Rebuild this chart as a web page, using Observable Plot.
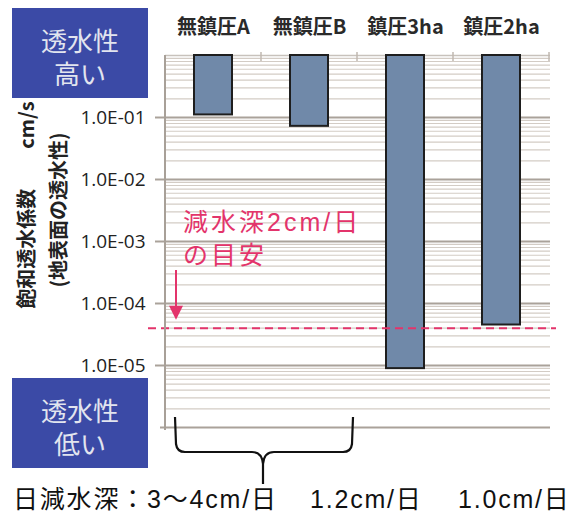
<!DOCTYPE html>
<html><head><meta charset="utf-8">
<script src="https://cdn.jsdelivr.net/npm/d3@7"></script>
<script src="https://cdn.jsdelivr.net/npm/@observablehq/plot@0.6"></script>
<style>
body{margin:0;background:#fff;}
#chart{position:relative;width:579px;height:512px;}
</style></head><body><div id="chart"></div>
<script>
// ---- data ----
const categories = ["無鎮圧A", "無鎮圧B", "鎮圧3ha", "鎮圧2ha"];
const permeability = [0.11, 0.072, 8.9e-6, 4.5e-5];   // cm/s
const barTop = 1;
const tickValues = [1e-1, 1e-2, 1e-3, 1e-4, 1e-5];
const tickLabels = ["1.0E-01", "1.0E-02", "1.0E-03", "1.0E-04", "1.0E-05"];
const guideValue = 4.0e-5;
const guideLabel = ["減水深2cm/日", "の目安"];
const yTitle = ["飽和透水係数　　cm/s", "(地表面の透水性)"];
const highLabel = ["透水性", "高い"];
const lowLabel = ["透水性", "低い"];
const dailyDepth = ["日減水深：3〜4cm/日", "1.2cm/日", "1.0cm/日"];

const data = categories.map((c, i) => ({cat: c, v: permeability[i]}));
const yDomain = [1e-6, 1];
const gridAll = d3.scaleLog().domain(yDomain).ticks();
const isMajor = v => Math.abs(Math.log10(v) - Math.round(Math.log10(v))) < 1e-9;
const majors = gridAll.filter(isMajor);
const minors = gridAll.filter(v => !isMajor(v));
const labelMap = new Map(tickValues.map((v, i) => [v, tickLabels[i]]));

const pink = "#e3346b";
const latinJP = "'Liberation Sans', 'Noto Sans CJK JP', sans-serif";
const plot = Plot.plot({
  width: 579, height: 512,
  marginTop: 55, marginBottom: 85, marginLeft: 165, marginRight: 29,
  style: {fontFamily: "'Noto Sans CJK JP', sans-serif", background: "transparent", overflow: "visible"},
  x: {domain: categories, paddingInner: 0.6, paddingOuter: 0.3, axis: null, label: null},
  y: {type: "log", domain: yDomain, axis: null, label: null},
  marks: [
    Plot.ruleY(minors, {stroke: "#d3ccc5", strokeWidth: 1.2}),
    Plot.ruleY(majors.filter(v => v < 1 && v > 1e-6), {stroke: "#aaa29a", strokeWidth: 2}),
    Plot.ruleY([1], {stroke: "#c8c2bc", strokeWidth: 1.5}),
    Plot.ruleY([1e-6], {stroke: "#aaa29a", strokeWidth: 2, insetLeft: -5}),
    Plot.barY(data, {x: "cat", y1: barTop, y2: "v", fill: "#7089a9", stroke: "#1e1e1e", strokeWidth: 2}),
    Plot.ruleY([guideValue], {stroke: pink, strokeWidth: 2, strokeDasharray: "8,5", insetLeft: -17, insetRight: -6}),
    Plot.axisY(tickValues, {tickSize: 10, tickPadding: 10, stroke: "#aaa29a", strokeWidth: 2, label: null,
      tickFormat: d => labelMap.get(d), fontSize: 19, fill: "#222", fontFamily: "'Open Sans', sans-serif"}),
    Plot.axisX({anchor: "top", tickSize: 0, tickPadding: 22, fontSize: 20, fontWeight: "bold", fill: "#2a2a2a", label: null})
  ]
});
document.getElementById("chart").appendChild(plot);

// ---- annotations ----
const svg = d3.select(plot);
const xs = plot.scale("x");
const g = svg.append("g").attr("text-anchor", "start");

// left axis line
g.append("line").attr("x1", 165).attr("x2", 165).attr("y1", 55).attr("y2", 430)
  .attr("stroke", "#a8a098").attr("stroke-width", 2);
// small ticks at band boundaries on top
categories.forEach(c => {
  const bx = xs.apply(c) + xs.bandwidth + (xs.step - xs.bandwidth) / 2;
  g.append("line").attr("x1", bx).attr("x2", bx).attr("y1", 52).attr("y2", 61)
    .attr("stroke", "#c0b8b0").attr("stroke-width", 1.5);
});

// blue boxes
function box(y, lines) {
  g.append("rect").attr("x", 12).attr("y", y).attr("width", 136).attr("height", 90).attr("fill", "#3b4aa6");
  lines.forEach((t, i) => g.append("text").attr("x", 80).attr("y", y + 31 + i * 33)
    .attr("text-anchor", "middle").attr("dominant-baseline", "central")
    .attr("font-size", 26).attr("fill", "#e2e5ef").text(t));
}
box(8, highLabel);
box(378, lowLabel);

// y title
[[25, 205], [57, 210]].forEach(([x, y], i) => {
  g.append("text").attr("transform", `translate(${x},${y}) rotate(-90)`)
    .attr("text-anchor", "middle").attr("dominant-baseline", "central")
    .attr("font-size", 20).attr("font-weight", "bold").attr("fill", "#222").text(yTitle[i]);
});

// guide label
guideLabel.forEach((t, i) => g.append("text").attr("x", 183).attr("y", 222 + i * 33)
  .attr("text-anchor", "start").attr("dominant-baseline", "central")
  .attr("font-family", latinJP).attr("letter-spacing", 3)
  .attr("font-size", 25).attr("fill", pink).text(t));
// arrow
const ya = plot.scale("y").apply(guideValue);
g.append("line").attr("x1", 176).attr("x2", 176).attr("y1", 270).attr("y2", ya - 18)
  .attr("stroke", pink).attr("stroke-width", 2);
g.append("path").attr("d", `M169,${ya - 22} L183,${ya - 22} L176,${ya - 8} Z`).attr("fill", pink);

// brace
g.append("path").attr("d",
  "M175,417 L176,444 Q177,452 185,452 L252,452 Q262,452 263,464 L263,484 M263,464 Q264,452 274,452 L343,452 Q351,452 352,444 L353,417")
  .attr("fill", "none").attr("stroke", "#111").attr("stroke-width", 2.2);

// bottom text
[[13, 0], [310, 1], [458, 2]].forEach(([x, i]) => g.append("text").attr("x", x).attr("y", 499)
  .attr("text-anchor", "start").attr("dominant-baseline", "central")
  .attr("font-family", latinJP).attr("letter-spacing", 1.8)
  .attr("font-size", 25).attr("fill", "#111").text(dailyDepth[i]));
</script></body></html>
